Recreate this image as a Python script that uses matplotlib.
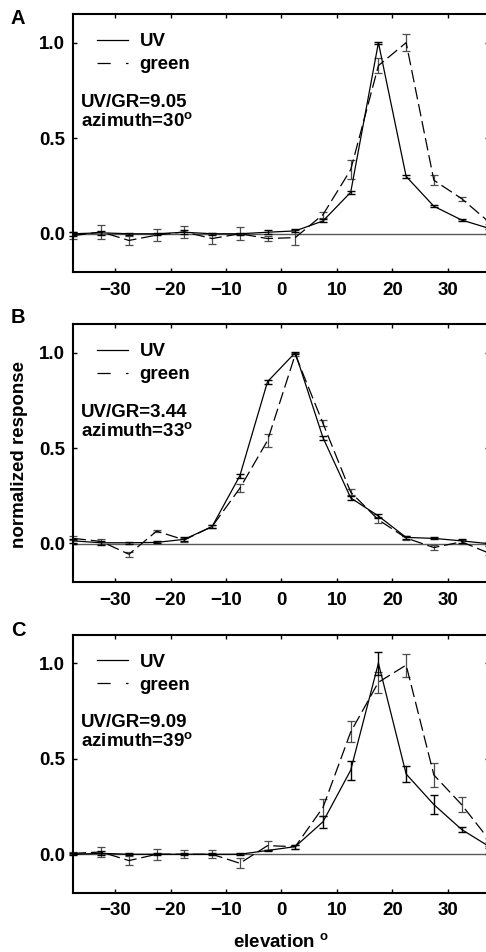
import numpy as np
import matplotlib
matplotlib.use('Agg')
from matplotlib import pyplot as plt
from matplotlib.lines import Line2D

plt.rcParams['font.family'] = ['Liberation Sans', 'DejaVu Sans']
plt.rcParams['font.weight'] = 'bold'
plt.rcParams['font.size'] = 13.5
plt.rcParams['mathtext.fontset'] = 'custom'
plt.rcParams['mathtext.rm'] = 'Liberation Sans:bold'
plt.rcParams['mathtext.bf'] = 'Liberation Sans:bold'
plt.rcParams['lines.scale_dashes'] = False

# elevation bins (deg)
elevation = [-37.5, -32.5, -27.5, -22.5, -17.5, -12.5, -7.5, -2.5,
             2.5, 7.5, 12.5, 17.5, 22.5, 27.5, 32.5, 37.5]

# panel A
uv_a = [0.0, 0.005, 0.0, 0.0, 0.008, 0.0, 0.0, 0.008,
        0.015, 0.067, 0.217, 1.0, 0.30, 0.144, 0.072, 0.028]
uv_a_err = [0.01, 0.01, 0.005, 0.005, 0.01, 0.005, 0.005, 0.01,
            0.008, 0.008, 0.008, 0.005, 0.008, 0.005, 0.005, 0.005]
green_a = [-0.01, 0.01, -0.035, -0.007, 0.01, -0.025, 0.0, -0.025,
           -0.02, 0.10, 0.335, 0.88, 1.0, 0.28, 0.184, 0.06]
green_a_err = [0.02, 0.035, 0.025, 0.03, 0.03, 0.03, 0.035, 0.015,
               0.04, 0.015, 0.05, 0.04, 0.045, 0.025, 0.01, 0.01]

# panel B
uv_b = [0.015, 0.005, 0.005, 0.007, 0.023, 0.09, 0.355, 0.848,
        1.0, 0.555, 0.24, 0.145, 0.033, 0.028, 0.015, 0.0]
uv_b_err = [0.01, 0.01, 0.005, 0.005, 0.01, 0.008, 0.01, 0.01,
            0.005, 0.01, 0.01, 0.012, 0.01, 0.005, 0.01, 0.01]
green_b = [0.028, 0.012, -0.055, 0.066, 0.02, 0.09, 0.29, 0.54,
           0.99, 0.63, 0.27, 0.125, 0.03, -0.02, 0.01, -0.05]
green_b_err = [0.01, 0.015, 0.012, 0.006, 0.01, 0.008, 0.02, 0.035,
               0.01, 0.015, 0.015, 0.015, 0.01, 0.015, 0.01, 0.01]

# panel C
uv_c = [0.0, 0.005, 0.0, 0.0, 0.0, 0.0, 0.0, 0.02,
        0.04, 0.17, 0.44, 1.0, 0.42, 0.26, 0.13, 0.04]
uv_c_err = [0.005, 0.01, 0.005, 0.005, 0.005, 0.005, 0.005, 0.005,
            0.01, 0.03, 0.05, 0.06, 0.04, 0.05, 0.013, 0.005]
green_c = [0.005, 0.012, -0.033, 0.0, 0.0, 0.0, -0.047, 0.045,
           0.04, 0.245, 0.64, 0.9, 0.99, 0.415, 0.26, 0.075]
green_c_err = [0.005, 0.025, 0.025, 0.03, 0.02, 0.02, 0.025, 0.025,
               0.01, 0.045, 0.055, 0.055, 0.06, 0.065, 0.04, 0.01]

panels = [
    ('A', uv_a, uv_a_err, green_a, green_a_err, 'UV/GR=9.05', '30'),
    ('B', uv_b, uv_b_err, green_b, green_b_err, 'UV/GR=3.44', '33'),
    ('C', uv_c, uv_c_err, green_c, green_c_err, 'UV/GR=9.09', '39'),
]
bottoms = [0.7143, 0.3887, 0.0625]
label_y = [19, 318, 630]

fig = plt.figure(figsize=(4.86, 9.52), dpi=100)

dash = (0, (9, 3.5))

for i, (name, uv, uv_err, gr, gr_err, ratio, azi) in enumerate(panels):
    ax = fig.add_axes([0.1512, bottoms[i], 0.8556, 0.271])
    ax.axhline(0, color='0.35', lw=1, zorder=1)
    ax.errorbar(elevation, gr, yerr=gr_err, color='k', ecolor='0.3',
                lw=0.9, ls=dash, elinewidth=0.9, capsize=3, capthick=0.9,
                clip_on=False, zorder=2)
    ax.errorbar(elevation, uv, yerr=uv_err, color='k', ecolor='k',
                lw=0.9, ls='-', elinewidth=1.0, capsize=3, capthick=1.0,
                clip_on=False, zorder=3)
    ax.set_xlim(-37.5, 37.5)
    ax.set_ylim(-0.2, 1.15)
    ax.set_xticks([-30, -20, -10, 0, 10, 20, 30])
    ax.set_yticks([0.0, 0.5, 1.0])
    ax.set_yticklabels(['0.0', '0.5', '1.0'])
    ax.tick_params(direction='in', length=3, width=1, top=True, right=True,
                   labelsize=13.5, pad=6)
    ax.tick_params(axis='x', pad=7)
    for s in ax.spines.values():
        s.set_linewidth(1.5)

    h1 = Line2D([], [], color='k', lw=0.9, ls='-')
    h2 = Line2D([], [], color='k', lw=0.9, ls=(0, (9.5, 11, 2, 20)))
    ax.legend([h1, h2], ['UV', 'green'], loc='upper left',
              bbox_to_anchor=(0.056, 0.925), frameon=False, borderpad=0,
              borderaxespad=0, handlelength=1.65, handletextpad=0.64,
              labelspacing=0.3, fontsize=13.5)

    ax.text(0.018, 0.641, ratio, transform=ax.transAxes, va='baseline',
            ha='left', fontsize=13.5)
    ax.text(0.018, 0.5636, 'azimuth=' + azi + r'$^\mathrm{o}$',
            transform=ax.transAxes, va='baseline', ha='left', fontsize=13.5)

    fig.text(18 / 486, 1 - label_y[i] / 952, name, ha='center',
             va='center', fontsize=14.5)

fig.text(19 / 486, 1 - 454 / 952, 'normalized response', rotation=90,
         ha='center', va='center', fontsize=13.5)
fig.text(281 / 486, 1 - 943 / 952, r'elevation $^\mathrm{o}$',
         ha='center', va='center', fontsize=13.5)

fig.savefig('out.png', dpi=100)
